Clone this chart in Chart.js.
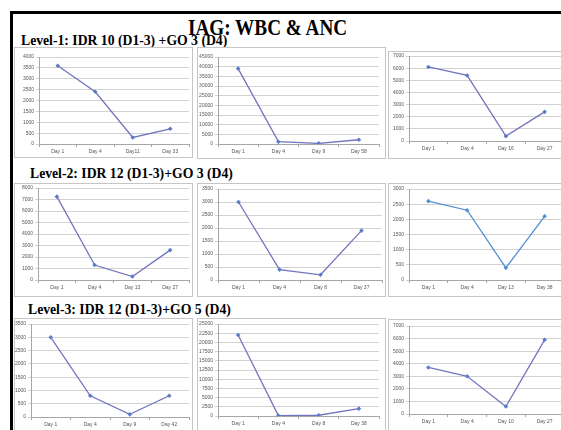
<!DOCTYPE html>
<html>
<head>
<meta charset="utf-8">
<script src="https://cdn.jsdelivr.net/npm/chart.js@4.4.1/dist/chart.umd.min.js"></script>
<style>
  html, body { margin: 0; padding: 0; background: #fff; overflow: hidden; }
  body { width: 561px; height: 430px; position: relative; }
  .frame { position: absolute; left: 10px; top: 11px; width: 600px; height: 500px;
           border-left: 3px solid #000; border-top: 3px solid #000; }
  .txt { position: absolute; font-family: "Liberation Serif", "DejaVu Serif", serif;
         font-weight: bold; color: #000; white-space: nowrap; }
  .title { font-size: 24px; line-height: 24px; transform: scaleX(0.8); transform-origin: 0 0; }
  .lvl { font-size: 13.7px; line-height: 14px; }
  .panel { position: absolute; border: 1px solid #c6c6c6; box-sizing: border-box; background: #fff; }
  .panel canvas { position: absolute; left: -1px; top: -1px; }
</style>
</head>
<body>
<div class="frame"></div>
<div class="txt title" style="left:188px; top:15px;">IAG: WBC &amp; ANC</div>
<div class="txt lvl" style="left:21px; top:34px;">Level-1: IDR 10 (D1-3) +GO 3 (D4)</div>
<div class="txt lvl" style="left:30px; top:167px;">Level-2: IDR 12 (D1-3)+GO 3 (D4)</div>
<div class="txt lvl" style="left:28px; top:303px;">Level-3: IDR 12 (D1-3)+GO 5 (D4)</div>

<script>
// Level-1: IDR 10 (D1-3) +GO 3 (D4)
const l1aLabels = ['Day 1', 'Day 4', 'Day11', 'Day 33'];
const l1aValues = [3600, 2400, 300, 700];
const l1bLabels = ['Day 1', 'Day 4', 'Day 9', 'Day 58'];
const l1bValues = [39000, 1200, 300, 2200];
const l1cLabels = ['Day 1', 'Day 4', 'Day 16', 'Day 27'];
const l1cValues = [6100, 5400, 400, 2400];

// Level-2: IDR 12 (D1-3)+GO 3 (D4)
const l2aLabels = ['Day 1', 'Day 4', 'Day 13', 'Day 27'];
const l2aValues = [7250, 1300, 300, 2600];
const l2bLabels = ['Day 1', 'Day 4', 'Day 8', 'Day 37'];
const l2bValues = [3000, 400, 200, 1900];
const l2cLabels = ['Day 1', 'Day 4', 'Day 13', 'Day 38'];
const l2cValues = [2600, 2300, 400, 2100];

// Level-3: IDR 12 (D1-3)+GO 5 (D4)
const l3aLabels = ['Day 1', 'Day 4', 'Day 9', 'Day 42'];
const l3aValues = [3000, 800, 100, 800];
const l3bLabels = ['Day 1', 'Day 4', 'Day 8', 'Day 38'];
const l3bValues = [22000, 100, 200, 2000];
const l3cLabels = ['Day 1', 'Day 4', 'Day 10', 'Day 27'];
const l3cValues = [3700, 3000, 600, 5900];

// axis ranges (max, step)
const l1aAxis = [4000, 500], l1bAxis = [45000, 5000], l1cAxis = [7000, 1000];
const l2aAxis = [8000, 1000], l2bAxis = [3500, 500], l2cAxis = [3000, 500];
const l3aAxis = [3500, 500], l3bAxis = [25000, 2500], l3cAxis = [7000, 1000];

const purple = '#7275be';
const blue = '#4f8fd4';

// panel box [left, top, right, bottom] and plot box [left, top, right, bottom]
function makeChart(panel, plot, labels, values, axis, color) {
    const div = document.createElement('div');
    div.className = 'panel';
    const w = panel[2] - panel[0], h = panel[3] - panel[1];
    div.style.left = panel[0] + 'px';
    div.style.top = panel[1] + 'px';
    div.style.width = w + 'px';
    div.style.height = h + 'px';
    const cv = document.createElement('canvas');
    cv.width = w; cv.height = h;
    cv.style.width = w + 'px';
    cv.style.height = h + 'px';
    div.appendChild(cv);
    document.body.appendChild(div);

    const yW = plot[0] - panel[0];
    const xH = panel[3] - plot[3];

    new Chart(cv.getContext('2d'), {
        type: 'line',
        data: {
            labels: labels,
            datasets: [{
                data: values,
                borderColor: color,
                backgroundColor: color === purple ? '#5b7cc4' : color,
                borderWidth: 1.3,
                pointStyle: 'rectRot',
                pointRadius: 2.3,
                pointBorderWidth: 0,
                tension: 0,
                fill: false
            }]
        },
        options: {
            responsive: false,
            animation: false,
            devicePixelRatio: 1,
            layout: { padding: { top: plot[1] - panel[1], right: panel[2] - plot[2], left: 0, bottom: 0 } },
            plugins: { legend: { display: false }, tooltip: { enabled: false } },
            scales: {
                x: {
                    offset: true,
                    afterFit: s => { s.height = xH; },
                    grid: { offset: true, drawOnChartArea: false, tickLength: 3, color: '#a6a6a6' },
                    border: { color: '#a6a6a6' },
                    ticks: { font: { size: 5, family: 'Liberation Sans' }, color: '#555', padding: 2, maxRotation: 0 }
                },
                y: {
                    min: 0, max: axis[0],
                    afterFit: s => { s.width = yW; },
                    grid: { color: '#d2d2d2', tickLength: 3 },
                    border: { color: '#a6a6a6' },
                    ticks: {
                        stepSize: axis[1],
                        callback: v => String(v),
                        font: { size: 5, family: 'Liberation Sans' }, color: '#555', padding: 2
                    }
                }
            }
        }
    });
}

makeChart([14, 47, 193, 158], [39, 57, 190, 144], l1aLabels, l1aValues, l1aAxis, purple);
makeChart([197, 47, 386, 159], [218, 57, 379, 144], l1bLabels, l1bValues, l1bAxis, purple);
makeChart([388, 51, 568, 159], [409, 56, 566, 141], l1cLabels, l1cValues, l1cAxis, purple);

makeChart([14, 183, 193, 297], [38, 188, 191, 280], l2aLabels, l2aValues, l2aAxis, purple);
makeChart([197, 183, 386, 297], [218, 189, 383, 280], l2bLabels, l2bValues, l2bAxis, purple);
makeChart([388, 183, 568, 297], [409, 189, 566, 280], l2cLabels, l2cValues, l2cAxis, blue);

makeChart([14, 318, 193, 432], [31, 324, 192, 417], l3aLabels, l3aValues, l3aAxis, purple);
makeChart([197, 318, 386, 432], [218, 324, 379, 416], l3bLabels, l3bValues, l3bAxis, purple);
makeChart([388, 319, 568, 432], [409, 326, 566, 414], l3cLabels, l3cValues, l3cAxis, purple);
</script>
</body>
</html>
